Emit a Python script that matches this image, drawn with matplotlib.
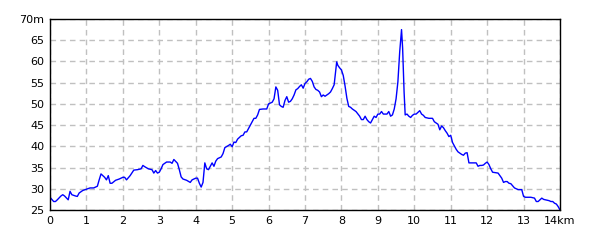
import matplotlib
matplotlib.use("Agg")
import matplotlib.pyplot as plt

# distance (km) and elevation (m)
dist = [0.0, 0.1, 0.15, 0.2, 0.3, 0.35, 0.4, 0.5, 0.55, 0.6, 0.7, 0.75, 0.8, 0.9,
        1.0, 1.1, 1.2, 1.3, 1.35, 1.4, 1.5, 1.55, 1.6, 1.65, 1.7, 1.8, 1.9,
        2.0, 2.05, 2.1, 2.2, 2.3, 2.4, 2.5, 2.55, 2.6, 2.7, 2.8, 2.85, 2.9, 2.95,
        3.0, 3.05, 3.1, 3.2, 3.3, 3.35, 3.4, 3.5, 3.55, 3.6, 3.65, 3.75, 3.85, 3.9,
        4.0, 4.05, 4.1, 4.15, 4.2, 4.25, 4.3, 4.35, 4.4, 4.45, 4.5, 4.55, 4.6, 4.7,
        4.75, 4.8, 4.9, 4.95, 5.0, 5.05, 5.1, 5.15, 5.2, 5.25, 5.3, 5.35, 5.4, 5.45,
        5.5, 5.55, 5.6, 5.65, 5.7, 5.75, 5.85, 5.95, 6.0, 6.1, 6.15, 6.2, 6.25, 6.3,
        6.35, 6.4, 6.45, 6.5, 6.55, 6.6, 6.65, 6.7, 6.75, 6.8, 6.85, 6.9, 6.95,
        7.0, 7.05, 7.1, 7.15, 7.2, 7.25, 7.3, 7.35, 7.4, 7.45, 7.5, 7.55, 7.6, 7.65,
        7.7, 7.75, 7.8, 7.83, 7.87, 7.9, 7.95, 8.0, 8.05, 8.1, 8.15, 8.2, 8.25, 8.3,
        8.4, 8.5, 8.55, 8.6, 8.65, 8.7, 8.75, 8.8, 8.85, 8.9, 8.95,
        9.0, 9.05, 9.1, 9.15, 9.2, 9.25, 9.3, 9.35, 9.4, 9.45, 9.5, 9.55, 9.6, 9.65,
        9.68, 9.72, 9.75, 9.8, 9.85, 9.9, 9.95,
        10.0, 10.05, 10.1, 10.15, 10.2, 10.25, 10.3, 10.4, 10.5, 10.55, 10.6, 10.65,
        10.7, 10.75, 10.8, 10.85, 10.9, 10.95,
        11.0, 11.05, 11.1, 11.15, 11.2, 11.3, 11.35, 11.4, 11.45, 11.5, 11.6, 11.65,
        11.7, 11.75, 11.8, 11.85, 11.9, 11.95,
        12.0, 12.05, 12.1, 12.15, 12.3, 12.35, 12.4, 12.45, 12.5, 12.55, 12.6, 12.65,
        12.7, 12.75, 12.85, 12.95,
        13.0, 13.05, 13.2, 13.3, 13.35, 13.4, 13.45, 13.5, 13.55, 13.6, 13.7, 13.75,
        13.8, 13.85, 13.9, 13.95, 14.0]
elev = [28.0, 27.0, 27.0, 27.4, 28.3, 28.6, 28.3, 27.4, 29.4, 28.6, 28.3, 28.2, 29.0, 29.6,
        29.9, 30.2, 30.2, 30.6, 32.1, 33.5, 32.7, 32.1, 33.1, 31.3, 31.3, 32.0, 32.3,
        32.7, 32.7, 32.1, 33.1, 34.4, 34.5, 34.7, 35.5, 35.2, 34.7, 34.5, 33.7, 34.3, 33.7,
        33.9, 34.7, 35.7, 36.3, 36.3, 36.0, 36.9, 36.0, 34.5, 32.8, 32.3, 32.0, 31.5, 32.1,
        32.5, 32.5, 31.3, 30.4, 31.5, 36.1, 34.7, 34.5, 35.3, 36.1, 35.3, 36.5, 37.1, 37.5,
        38.3, 39.7, 40.2, 40.5, 39.9, 41.0, 40.9, 41.7, 42.1, 42.5, 42.6, 43.4, 43.4, 44.2,
        45.0, 45.8, 46.6, 46.6, 47.4, 48.7, 48.8, 48.8, 50.0, 50.4, 51.2, 54.0, 53.2, 49.8,
        49.4, 49.2, 50.8, 51.7, 50.4, 50.6, 51.2, 52.1, 53.3, 53.6, 54.1, 54.5, 53.7,
        54.8, 55.2, 55.8, 56.0, 55.3, 54.0, 53.4, 53.2, 52.8, 51.7, 52.1, 51.8, 52.1, 52.4,
        52.8, 53.6, 54.5, 56.9, 59.9, 59.1, 58.5, 58.0, 56.7, 54.2, 51.3, 49.4, 49.2, 48.8,
        48.2, 47.1, 46.3, 46.3, 47.1, 46.3, 45.8, 45.5, 46.3, 47.1, 46.8,
        47.6, 47.6, 48.2, 47.6, 47.6, 47.6, 48.2, 47.1, 47.4, 48.8, 51.2, 55.2, 62.3, 67.5,
        63.1, 52.8, 47.4, 47.6, 47.1, 46.8, 47.3,
        47.6, 47.6, 48.0, 48.4, 47.6, 47.3, 46.8, 46.6, 46.6, 45.8, 45.5, 45.2,
        43.9, 44.8, 44.4, 43.7, 43.1, 42.3,
        42.6, 40.9, 40.1, 39.3, 38.7, 38.1, 37.9, 38.4, 38.5, 36.1, 36.1, 36.1,
        36.1, 35.3, 35.5, 35.5, 35.6, 36.0,
        36.3, 35.7, 34.7, 33.9, 33.7, 33.1, 32.5, 31.5, 31.7, 31.7, 31.3, 31.2,
        30.7, 30.2, 29.8, 29.8,
        28.2, 28.0, 28.0, 27.8, 27.0, 27.0, 27.4, 27.8, 27.5, 27.4, 27.2, 27.0,
        27.0, 26.6, 26.4, 25.8, 25.0]

xticks = list(range(0, 15))
xlabels = [str(k) for k in range(0, 14)] + ["14km"]
yticks = list(range(25, 71, 5))
ylabels = [str(v) for v in range(25, 70, 5)] + ["70m"]

fig = plt.figure(figsize=(6, 2.4), dpi=100)
ax = fig.add_axes([50 / 600, 30 / 240, 510 / 600, 191 / 240])

ax.plot(dist, elev, color="#0000ff", linewidth=1)

ax.set_xlim(0, 14)
ax.set_ylim(25, 70)
ax.set_xticks(xticks)
ax.set_xticklabels(xlabels)
ax.set_yticks(yticks)
ax.set_yticklabels(ylabels)
ax.tick_params(length=0, labelsize=8, pad=4)
ax.grid(True, color="#c0c0c0", linestyle=(0, (4, 3)), linewidth=1)
ax.set_axisbelow(True)
for s in ax.spines.values():
    s.set_color("black")
    s.set_linewidth(1)

fig.savefig("out.png", dpi=100)
